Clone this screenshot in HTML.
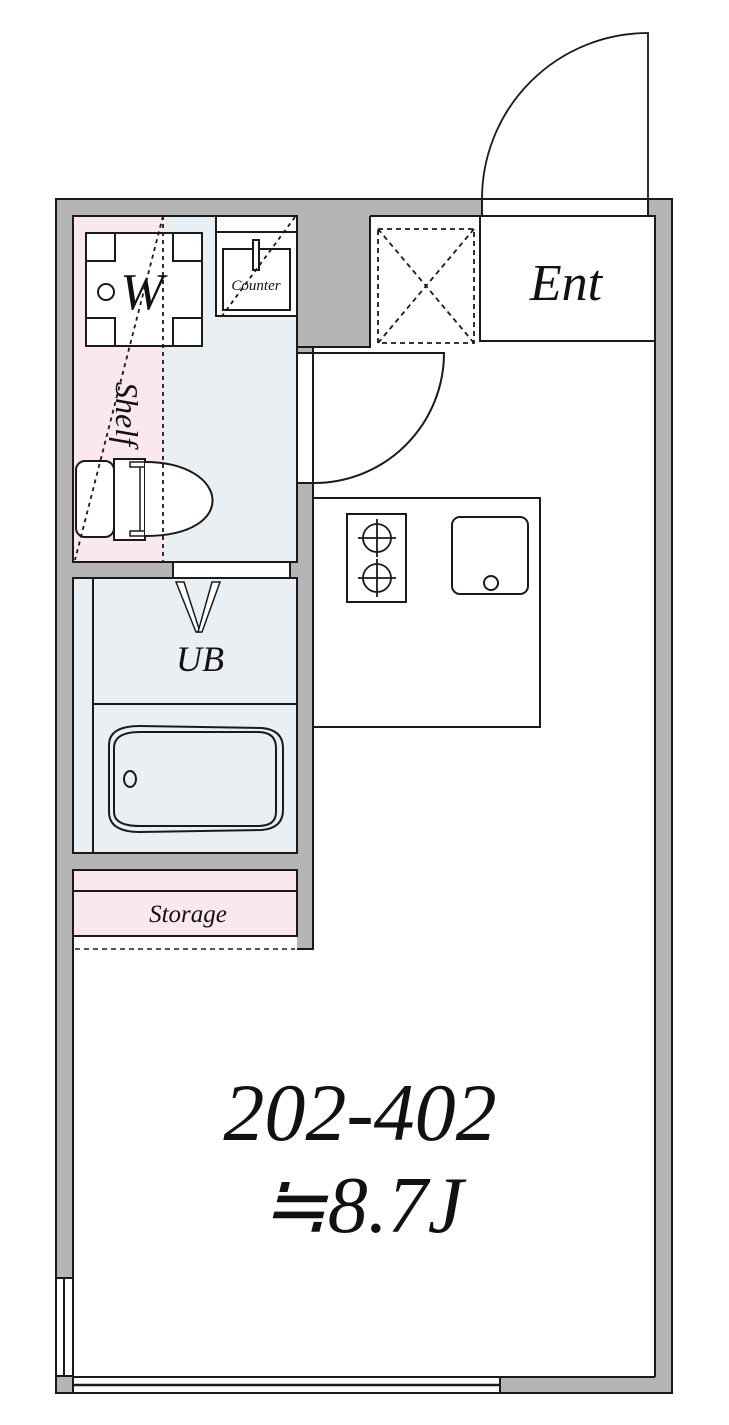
<!DOCTYPE html>
<html><head><meta charset="utf-8"><style>
html,body{margin:0;padding:0;background:#fff;}
svg{display:block;}
text{font-family:"Liberation Serif",serif;font-style:italic;fill:#111;}
</style></head><body>
<svg width="729" height="1425" viewBox="0 0 729 1425" xmlns="http://www.w3.org/2000/svg">
<g stroke="#1a1a1a" stroke-width="2" fill="none">
<rect x="56" y="199" width="616" height="1194" fill="#b5b5b5"/>
<path d="M73 216 H297 V347 H370 V216 H655 V1377 H73 Z" fill="#fff" stroke="none"/>
<rect x="297" y="347" width="16" height="602" fill="#b5b5b5" stroke="none"/>
<!-- gray gaps between wet rooms -->
<rect x="73" y="562" width="224" height="16" fill="#b5b5b5" stroke="none"/>
<rect x="73" y="853" width="224" height="17" fill="#b5b5b5" stroke="none"/>
<path d="M313 347 V949 H297" />
<path d="M297 216 V347 H370 V216" />
<line x1="73" y1="1377" x2="655" y2="1377"/>
<line x1="655" y1="216" x2="655" y2="1377"/>
<line x1="73" y1="949" x2="73" y2="1278"/>
<line x1="370" y1="216" x2="655" y2="216"/>
<rect x="482" y="199" width="166" height="17" fill="#fff"/>
<path d="M648 199 V33 A166 166 0 0 0 482 199" stroke-width="1.8"/>
<rect x="480" y="216" width="175" height="125" fill="#fff"/>
<g stroke-dasharray="5,4" stroke-width="1.8">
<rect x="378" y="229" width="96" height="114"/>
<line x1="378" y1="229" x2="474" y2="343"/>
<line x1="474" y1="229" x2="378" y2="343"/>
</g>
<rect x="73" y="216" width="90" height="346" fill="#fbe8ec" stroke="none"/>
<rect x="163" y="216" width="134" height="346" fill="#e9eff2" stroke="none"/>
<rect x="73" y="216" width="224" height="346"/>
<rect x="216" y="216" width="81" height="100" fill="#fff"/>
<line x1="216" y1="232" x2="297" y2="232"/>
<rect x="223" y="249" width="67" height="61"/>
<rect x="253" y="240" width="6" height="30" fill="#fff"/>
<rect x="86" y="233" width="116" height="113" fill="#fff"/>
<rect x="86" y="233" width="29" height="28"/>
<rect x="173" y="233" width="29" height="28"/>
<rect x="86" y="318" width="29" height="28"/>
<rect x="173" y="318" width="29" height="28"/>
<circle cx="106" cy="292" r="8"/>
<rect x="76" y="461" width="38" height="76" rx="9" fill="#fff"/>
<rect x="114" y="459" width="31" height="81" fill="#fff"/>
<path d="M145 462 C230 462 240 536 145 536" fill="#fff"/>
<path d="M145 462 H130 V467 H145 M145 536 H130 V531 H145 M140 467 V531" stroke-width="1.5"/>
<g stroke-dasharray="4,4" stroke-width="1.8">
<line x1="163" y1="216" x2="163" y2="562"/>
<line x1="163" y1="216" x2="75" y2="560"/>
<line x1="295" y1="217" x2="222" y2="316"/>
</g>
<rect x="297" y="353" width="16" height="130" fill="#fff"/>
<path d="M313 353 V483 A130 130 0 0 0 444 353 H313" fill="#fff"/>
<line x1="297" y1="353" x2="313" y2="353"/><line x1="297" y1="483" x2="313" y2="483"/>
<rect x="173" y="562" width="117" height="16" fill="#fff"/>
<rect x="73" y="578" width="224" height="275" fill="#e9eff2"/>
<line x1="93" y1="578" x2="93" y2="853"/>
<line x1="93" y1="704" x2="297" y2="704"/>
<path d="M109 745 Q109 726 140 726 L262 728 Q283 730 283 748 V810 Q283 828 262 830 L140 832 Q109 832 109 812 Z"/>
<path d="M114 748 Q114 732 140 732 L258 732 Q276 732 276 748 V812 Q276 826 258 826 L140 826 Q114 826 114 812 Z"/>
<ellipse cx="130" cy="779" rx="6" ry="8"/>
<path d="M176 582 L196 632 L200 632 L184 582 Z" fill="#fff" stroke-width="1.5"/>
<path d="M220 582 L202 632 L198 632 L212 582 Z" fill="#fff" stroke-width="1.5"/>
<rect x="73" y="870" width="224" height="66" fill="#fbe8ec"/>
<line x1="73" y1="891" x2="297" y2="891"/>
<rect x="73" y="937" width="224" height="12" fill="#fff" stroke="none"/>
<g stroke-dasharray="5,4" stroke-width="1.5">
<line x1="75" y1="936" x2="295" y2="936"/>
<line x1="75" y1="949" x2="295" y2="949"/>
</g>
<line x1="73" y1="870" x2="73" y2="949"/>
<rect x="313" y="498" width="227" height="229" fill="#fff"/>
<rect x="347" y="514" width="59" height="88"/>
<g stroke-width="1.8">
<circle cx="377" cy="538" r="14"/><path d="M377 519 V557 M358 538 H396"/>
<circle cx="377" cy="578" r="14"/><path d="M377 559 V597 M358 578 H396"/>
</g>
<rect x="452" y="517" width="76" height="77" rx="8"/>
<circle cx="491" cy="583" r="7"/>
<rect x="56" y="1278" width="17" height="98" fill="#fff"/>
<line x1="64" y1="1278" x2="64" y2="1376"/>
<rect x="73" y="1377" width="427" height="16" fill="#fff"/>
<line x1="73" y1="1385" x2="500" y2="1385" stroke-width="2.5"/>
<rect x="56" y="199" width="616" height="1194"/>
</g>
<text x="566" y="300" font-size="52" text-anchor="middle">Ent</text>
<text x="142" y="309" font-size="52" text-anchor="middle">W</text>
<text x="256" y="290" font-size="15" text-anchor="middle">Counter</text>
<text x="0" y="0" font-size="32" text-anchor="middle" transform="translate(116 414) rotate(90)">Shelf</text>
<text x="200" y="671" font-size="36" text-anchor="middle">UB</text>
<text x="188" y="922" font-size="25" text-anchor="middle">Storage</text>
<text x="360" y="1140" font-size="82" text-anchor="middle">202-402</text>
<text x="362" y="1232" font-size="80" text-anchor="middle">≒8.7J</text>
</svg>
</body></html>
